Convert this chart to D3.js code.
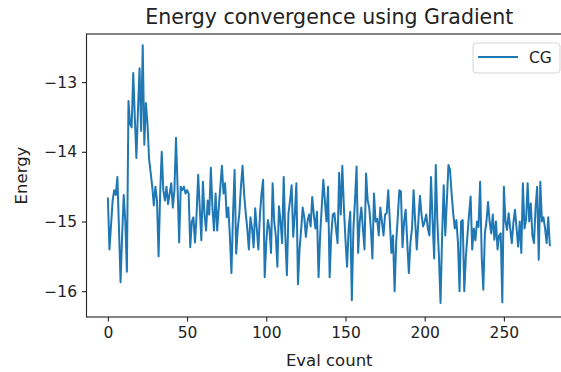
<!DOCTYPE html>
<html lang="en">
<head>
    <meta charset="UTF-8">
    <title>Energy convergence using Gradient</title>
    <script src="https://d3js.org/d3.v7.min.js"></script>
    <style>
        body { margin: 0; background: #fff; }
        svg { display: block; font-family: "DejaVu Sans", sans-serif; }
    </style>
</head>
<body>
    <svg></svg>
    <script>
        // energy value per evaluation (index = eval count)
        const energy = [
            -14.67, -15.40, -15.05, -14.70, -14.55, -14.62, -14.36, -15.10, -15.87, -15.20,
            -14.62, -15.00, -15.72, -13.27, -13.60, -13.65, -12.87, -13.50, -14.09, -13.40,
            -12.80, -13.70, -12.47, -13.90, -13.30, -13.60, -14.10, -14.30, -14.50, -14.77,
            -14.50, -14.70, -15.50, -14.60, -14.00, -14.55, -14.70, -14.50, -14.75, -14.60,
            -14.45, -14.80, -14.55, -13.80, -14.50, -15.30, -14.50, -14.55, -14.50, -14.60,
            -14.55, -14.60, -15.37, -15.00, -14.94, -15.30, -14.90, -14.33, -14.80, -15.27,
            -14.43, -14.90, -15.13, -14.70, -14.90, -14.23, -14.80, -15.13, -14.60, -15.13,
            -14.80, -14.50, -14.20, -14.60, -14.45, -14.94, -14.80, -15.20, -15.74, -14.90,
            -14.26, -15.46, -15.10, -14.88, -14.50, -14.20, -14.60, -14.88, -15.10, -15.40,
            -14.94, -15.10, -15.37, -14.81, -15.10, -15.40, -14.90, -14.60, -14.40, -15.80,
            -15.30, -14.98, -15.10, -15.45, -14.45, -15.00, -15.20, -15.65, -14.78, -15.00,
            -15.31, -14.36, -15.20, -15.77, -14.88, -14.70, -14.48, -15.22, -14.90, -14.45,
            -15.90, -15.40, -15.12, -14.80, -14.94, -15.22, -15.00, -14.90, -15.07, -14.65,
            -14.90, -15.10, -14.86, -15.80, -15.20, -14.80, -14.40, -14.70, -15.00, -14.50,
            -15.80, -15.20, -14.90, -14.88, -15.10, -15.31, -14.30, -14.90, -14.20, -14.80,
            -15.27, -15.65, -15.10, -14.86, -16.13, -15.10, -14.70, -14.21, -15.45, -15.00,
            -14.80, -15.10, -15.40, -14.31, -14.70, -14.80, -15.10, -15.53, -14.60, -15.00,
            -14.96, -15.20, -14.80, -15.00, -15.20, -14.90, -14.88, -14.55, -15.00, -15.45,
            -15.20, -16.00, -15.30, -14.94, -14.55, -14.57, -15.37, -15.00, -14.83, -15.30,
            -15.74, -15.30, -15.10, -14.55, -15.00, -15.40, -15.00, -14.63, -14.90, -15.07,
            -15.00, -14.90, -15.10, -15.20, -14.36, -15.00, -15.53, -14.19, -15.00, -15.50,
            -16.17, -15.20, -14.48, -15.20, -14.70, -14.19, -14.26, -14.60, -14.88, -15.10,
            -14.98, -15.30, -16.00, -15.00, -14.98, -16.00, -15.50, -15.20, -14.90, -14.64,
            -15.40, -15.10, -15.27, -15.00, -15.08, -14.43, -15.50, -15.98, -15.17, -15.00,
            -14.72, -15.00, -15.17, -14.90, -15.26, -15.00, -15.40, -15.20, -15.17, -16.16,
            -14.50, -15.00, -15.12, -14.88, -15.10, -15.31, -15.02, -14.83, -15.10, -15.36,
            -15.00, -15.45, -14.45, -15.10, -14.98, -14.45, -15.00, -14.74, -15.20, -15.31,
            -14.80, -14.50, -15.55, -14.43, -15.00, -14.94, -15.10, -15.31, -14.94, -15.34
        ];
        const xTicks = [0, 50, 100, 150, 200, 250];
        const yTicks = [-16, -15, -14, -13];
        const seriesName = 'CG';

        const svgWidth = 561;
        const svgHeight = 372;
        // plot box; the right spine falls just past the picture edge
        const box = { left: 86.5, right: 572, top: 34, bottom: 317 };
        const blue = '#1f77b4';

        const svg = d3.select('svg')
            .attr('width', svgWidth)
            .attr('height', svgHeight);

        const x = d3.scaleLinear()
            .domain([-13.5, 293])
            .range([box.left, box.right]);

        const y = d3.scaleLinear()
            .domain([-16.37, -12.31])
            .range([box.bottom, box.top]);

        const line = d3.line()
            .x((d, i) => x(i))
            .y(d => y(d));

        svg.append('defs').append('clipPath')
            .attr('id', 'plot-clip')
            .append('rect')
            .attr('x', box.left)
            .attr('y', box.top)
            .attr('width', box.right - box.left)
            .attr('height', box.bottom - box.top);

        svg.append('path')
            .datum(energy)
            .attr('clip-path', 'url(#plot-clip)')
            .attr('fill', 'none')
            .attr('stroke', blue)
            .attr('stroke-width', 2)
            .attr('stroke-linejoin', 'round')
            .attr('stroke-linecap', 'square')
            .attr('d', line);

        // axes
        const fmt = d => d < 0 ? '\u2212' + Math.abs(d) : String(d);

        const xAxis = svg.append('g')
            .attr('transform', `translate(0,${box.bottom})`)
            .call(d3.axisBottom(x).tickValues(xTicks).tickFormat(fmt)
                .tickSizeInner(4.5).tickSizeOuter(0).tickPadding(5));

        const yAxis = svg.append('g')
            .attr('transform', `translate(${box.left},0)`)
            .call(d3.axisLeft(y).tickValues(yTicks).tickFormat(fmt)
                .tickSizeInner(4.5).tickSizeOuter(0).tickPadding(5));

        [xAxis, yAxis].forEach(a => {
            a.select('.domain').remove();
            a.selectAll('line').attr('stroke', '#222').attr('stroke-width', 1.1);
            a.selectAll('text')
                .attr('fill', '#222')
                .style('font-size', '15.5px')
                .style('font-family', '"DejaVu Sans", sans-serif');
        });

        // spines
        svg.append('rect')
            .attr('x', box.left)
            .attr('y', box.top)
            .attr('width', box.right - box.left)
            .attr('height', box.bottom - box.top)
            .attr('fill', 'none')
            .attr('stroke', '#222')
            .attr('stroke-width', 1.1);

        // title and labels
        svg.append('text')
            .attr('x', (box.left + box.right) / 2)
            .attr('y', 23.5)
            .attr('text-anchor', 'middle')
            .attr('fill', '#222')
            .style('font-size', '20.5px')
            .text('Energy convergence using Gradient');

        svg.append('text')
            .attr('x', (box.left + box.right) / 2)
            .attr('y', 366)
            .attr('text-anchor', 'middle')
            .attr('fill', '#222')
            .style('font-size', '16.5px')
            .text('Eval count');

        svg.append('text')
            .attr('transform', `translate(27,${(box.top + box.bottom) / 2}) rotate(-90)`)
            .attr('text-anchor', 'middle')
            .attr('fill', '#222')
            .style('font-size', '16.5px')
            .text('Energy');

        // legend
        const legend = svg.append('g').attr('transform', 'translate(473,43)');
        legend.append('rect')
            .attr('width', 87)
            .attr('height', 30)
            .attr('rx', 3)
            .attr('fill', '#fff')
            .attr('fill-opacity', 0.8)
            .attr('stroke', '#d5d5d5')
            .attr('stroke-width', 1);
        legend.append('line')
            .attr('x1', 5).attr('x2', 45)
            .attr('y1', 14).attr('y2', 14)
            .attr('stroke', blue)
            .attr('stroke-width', 2);
        legend.append('text')
            .attr('x', 56)
            .attr('y', 20)
            .attr('fill', '#222')
            .style('font-size', '15.5px')
            .text(seriesName);
    </script>
</body>
</html>
